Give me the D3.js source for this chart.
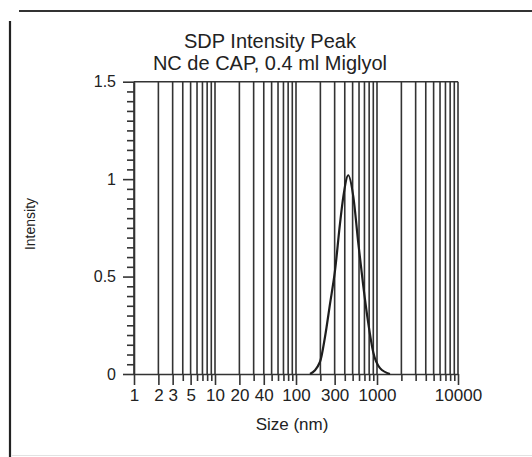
<!DOCTYPE html>
<html>
<head>
<meta charset="utf-8">
<script src="https://cdn.jsdelivr.net/npm/d3@7"></script>
<style>
  html, body { margin: 0; padding: 0; background: #fff; }
  svg { display: block; }
  text { font-family: "Liberation Sans", Arial, sans-serif; fill: #222; }
</style>
</head>
<body>
<svg id="chart" width="532" height="457"></svg>
<script>
// Particle size distribution (intensity weighted)
const sizeNm    = [149, 198, 228, 263, 303, 349, 384, 442, 510, 588, 678, 781, 900, 1089, 1446];
const intensity = [0, 0.063, 0.19, 0.36, 0.53, 0.77, 0.91, 1.02, 0.91, 0.67, 0.45, 0.26, 0.11, 0.03, 0];

const titleLines = ["SDP Intensity Peak", "NC de CAP, 0.4 ml Miglyol"];
const xLabelValues = [1, 2, 3, 5, 10, 20, 40, 100, 300, 1000, 10000];
const yMajorValues = [0, 0.5, 1, 1.5];

const svg = d3.select("#chart");
const ink = "#333";
const lw = 1.6;

// outer frame (top and left rules)
svg.append("line").attr("x1", 19).attr("x2", 532).attr("y1", 11).attr("y2", 11)
  .attr("stroke", "#333").attr("stroke-width", 2);
svg.append("line").attr("x1", 10).attr("x2", 10).attr("y1", 21).attr("y2", 457)
  .attr("stroke", "#222").attr("stroke-width", 2.2);
svg.append("line").attr("x1", 12).attr("x2", 532).attr("y1", 455.5).attr("y2", 455.5)
  .attr("stroke", "#e2e2e2").attr("stroke-width", 1);

const x = d3.scaleLog().domain([1, 10000]).range([134, 458]);
const y = d3.scaleLinear().domain([0, 1.5]).range([374, 81.7]);

// every log step 1..9 in each decade, plus the last decade mark
const logTicks = [];
for (let p = 0; p < 4; p++) for (let m = 1; m < 10; m++) logTicks.push(m * Math.pow(10, p));
logTicks.push(10000);

// vertical grid
svg.append("g").selectAll("line").data(logTicks).join("line")
  .attr("x1", d => x(d)).attr("x2", d => x(d))
  .attr("y1", y(1.5)).attr("y2", y(0))
  .attr("stroke", ink).attr("stroke-width", lw);

// top border of plot
svg.append("line").attr("x1", x(1)).attr("x2", x(10000)).attr("y1", y(1.5)).attr("y2", y(1.5))
  .attr("stroke", ink).attr("stroke-width", lw);

// x axis
const xAxis = d3.axisBottom(x).tickValues(logTicks).tickSizeOuter(0)
  .tickFormat(d => xLabelValues.includes(d) ? String(d) : "");
const gx = svg.append("g").attr("transform", `translate(0,${y(0)})`).call(xAxis);
gx.select(".domain").attr("stroke", ink).attr("stroke-width", lw);
gx.selectAll(".tick line").attr("stroke", ink).attr("stroke-width", lw)
  .attr("y2", d => xLabelValues.includes(d) ? 11 : 7);
gx.selectAll(".tick text").attr("y", 15).attr("dy", "0.71em")
  .style("font-size", "17px").attr("fill", "#222");

// y axis
const yTicks = d3.range(0, 31).map(i => +(i * 0.05).toFixed(2));
const yAxis = d3.axisLeft(y).tickValues(yTicks).tickSizeOuter(0)
  .tickFormat(d => yMajorValues.includes(d) ? String(d) : "");
const gy = svg.append("g").attr("transform", `translate(${x(1)},0)`).call(yAxis);
gy.select(".domain").attr("stroke", ink).attr("stroke-width", lw);
gy.selectAll(".tick line").attr("stroke", ink).attr("stroke-width", lw)
  .attr("x2", d => yMajorValues.includes(d) ? -11 : -7);
gy.selectAll(".tick text").attr("x", -18).style("font-size", "16px").attr("fill", "#222");

// distribution curve
const line = d3.line().x((d, i) => x(sizeNm[i])).y(d => y(d)).curve(d3.curveMonotoneX);
svg.append("path").datum(intensity).attr("d", line)
  .attr("fill", "none").attr("stroke", "#1e1e1e").attr("stroke-width", 2.2);

// titles
svg.append("g").selectAll("text").data(titleLines).join("text")
  .attr("x", 270).attr("y", (d, i) => 48 + i * 22)
  .attr("text-anchor", "middle").style("font-size", "20px").text(d => d);

svg.append("text").attr("x", (x(1) + x(10000)) / 2 - 4).attr("y", 430)
  .attr("text-anchor", "middle").style("font-size", "17px").text("Size (nm)");

svg.append("text").attr("transform", "translate(35,224) rotate(-90)")
  .attr("text-anchor", "middle").style("font-size", "14px").text("Intensity");
</script>
</body>
</html>
